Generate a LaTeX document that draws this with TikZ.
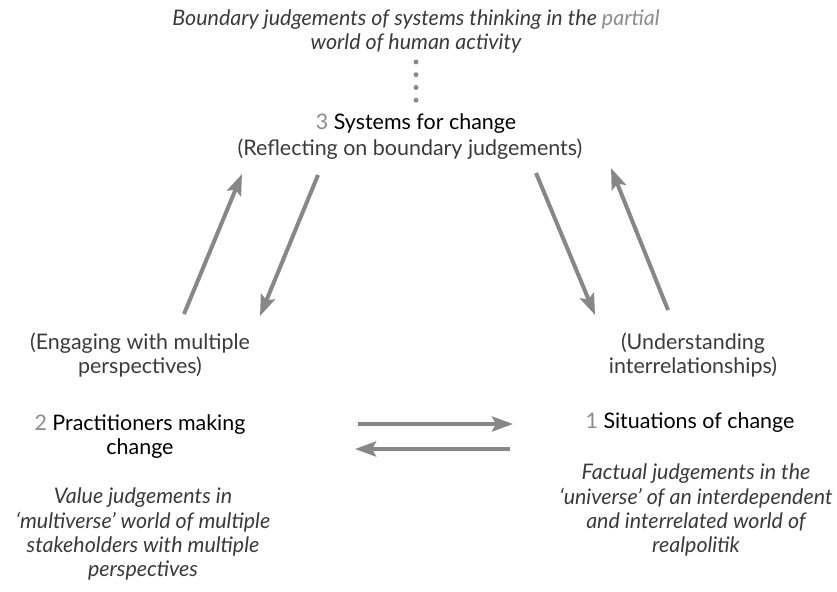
\documentclass[tikz,border=0pt]{standalone}
\usepackage{fontspec}
\setmainfont{Lato}
\usetikzlibrary{arrows.meta}

\definecolor{arrowgrey}{HTML}{878787}
\definecolor{numgrey}{HTML}{8C8C8C}
\definecolor{textgrey}{HTML}{3A3A3A}

\newcommand{\diagfont}{\fontsize{12.2}{13.7}\selectfont}

\tikzset{
  judge/.style={align=center, font=\diagfont\itshape, text=textgrey, inner sep=0pt},
  role/.style={align=center, font=\diagfont, text=black, inner sep=0pt},
  activity/.style={align=center, font=\diagfont, text=textgrey, inner sep=0pt},
  flow/.style={draw=arrowgrey, line width=0.08cm,
    -{Stealth[length=0.42cm, width=0.3cm, inset=0.08cm]}},
  dotline/.style={draw=numgrey, line width=0.1cm, line cap=round,
    dash pattern=on 0pt off 0.255cm}
}

\begin{document}
\begin{tikzpicture}[x=0.02cm, y=-0.02cm]

% Frame of the picture (pixel units, y downwards)
\useasboundingbox (0,0) rectangle (837,591);

% Top: boundary judgements
\node[judge] (bound) at (416,31)
  {Boundary judgements of systems thinking in the \textcolor{numgrey}{partial}\\
   world of human activity};

% Dotted link down to the systems node
\coordinate (dtop) at (416,62);
\coordinate (dbot) at (416,101);
\draw[dotline] (dtop) -- (dbot);

% 3 Systems for change
\node[role] (sys) at (416,124) {\textcolor{numgrey}{3} Systems for change};
\node[activity] (reflect) at (410,149) {(Reflecting on boundary judgements)};

% 2 Practitioners making change (left)
\node[activity] (engage) at (140,355) {(Engaging with multiple\\ perspectives)};
\node[role] (pract) at (140,437) {\textcolor{numgrey}{2} Practitioners making\\ change};
\node[judge] (value) at (143,534)
  {Value judgements in\\ `multiverse' world of multiple\\
   stakeholders with multiple\\ perspectives};

% 1 Situations of change (right)
\node[activity] (under) at (693,355) {(Understanding\\ interrelationships)};
\node[role] (sit) at (690,423) {\textcolor{numgrey}{1} Situations of change};
\node[judge] (fact) at (696,510)
  {Factual judgements in the\\ `universe' of an interdependent\\
   and interrelated world of\\ realpolitik};

% Arrow end points
\coordinate (lu1) at (184,314);
\coordinate (lu2) at (242,174);
\coordinate (ld1) at (318,175);
\coordinate (ld2) at (260,316);
\coordinate (rd1) at (536,173);
\coordinate (rd2) at (595,315);
\coordinate (ru1) at (668,310);
\coordinate (ru2) at (611,168);
\coordinate (hr1) at (358,424);
\coordinate (hr2) at (513,424);
\coordinate (hl1) at (510,449);
\coordinate (hl2) at (355,449);

% Arrows between 3 and 2
\draw[flow] (lu1) -- (lu2);
\draw[flow] (ld1) -- (ld2);

% Arrows between 3 and 1
\draw[flow] (rd1) -- (rd2);
\draw[flow] (ru1) -- (ru2);

% Arrows between 2 and 1
\draw[flow] (hr1) -- (hr2);
\draw[flow] (hl1) -- (hl2);

\end{tikzpicture}
\end{document}
